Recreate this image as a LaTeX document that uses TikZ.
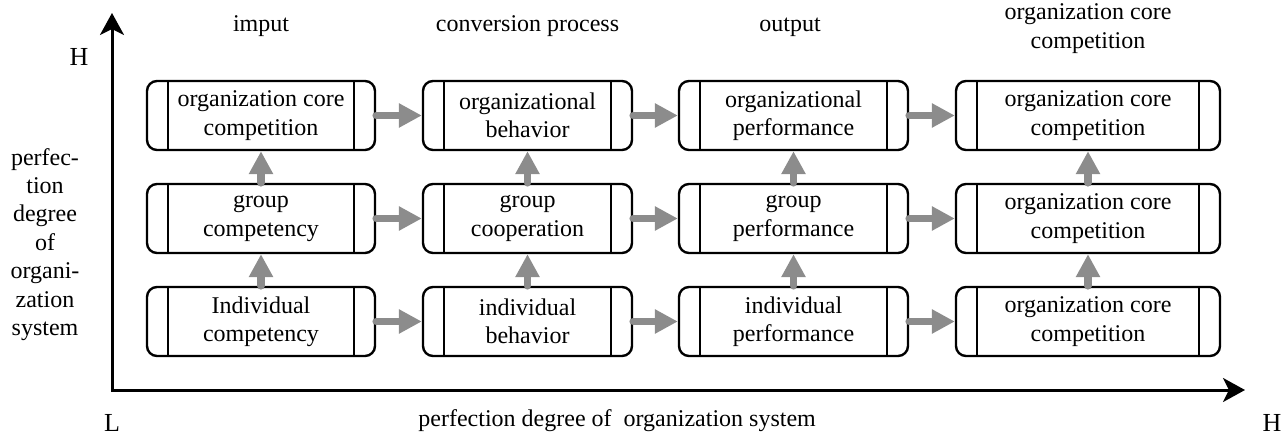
\documentclass[tikz,border=0pt]{standalone}
\usepackage{fontspec}
\setmainfont{Liberation Serif}
\newfontfamily\timesfont{Liberation Serif}
\usetikzlibrary{arrows.meta,positioning}
\definecolor{flowgray}{RGB}{140,140,140}

\begin{document}
\begin{tikzpicture}[
    x=0.5pt, y=-0.5pt,
    font=\timesfont\fontsize{12}{14.2}\selectfont,
    stage/.style={rectangle, draw, line width=1.2pt, rounded corners=5pt, align=center, inner sep=0pt, minimum height=34.5pt,
        path picture={
            \draw[line width=1.2pt] ([xshift=10.5pt]path picture bounding box.north west) -- ([xshift=10.5pt]path picture bounding box.south west);
            \draw[line width=1.2pt] ([xshift=-10.5pt]path picture bounding box.north east) -- ([xshift=-10.5pt]path picture bounding box.south east);
        }},
    flow/.style={-{Triangle[length=11.5pt,width=11.5pt]}, line width=3.8pt, line cap=round, flowgray},
    axisline/.style={{Stealth[length=11pt,width=12pt,inset=3pt]}-{Stealth[length=11pt,width=12pt,inset=3pt]}, line width=1.5pt, line join=miter},
    head/.style={align=center, inner sep=0pt}
]
\useasboundingbox (0,0) rectangle (1284,438);

% Axes
\coordinate (origin) at (112,390);
\coordinate (ytop) at (112,13);
\coordinate (xend) at (1245,390);
\draw[axisline] (ytop) -- (origin) -- (xend);

\node[head, font=\timesfont\fontsize{13}{14}\selectfont] (hy) at (79,57) {H};
\node[head, font=\timesfont\fontsize{13}{14}\selectfont] (lo) at (112,423) {L};
\node[head, font=\timesfont\fontsize{13}{14}\selectfont] (hx) at (1272,423) {H};
\node[head] (ylabel) at (45,244.5) {perfec-\\tion\\degree\\of\\organi-\\zation\\system};
\node[head, anchor=base west] (xlabel) at (418,426) {perfection degree of~ organization system};

% Column headers
\node[head, anchor=base] (hin) at (261,32) {imput};
\node[head, anchor=base] (hconv) at (527.5,32) {conversion process};
\node[head, anchor=base] (hout) at (790,32) {output};
\node[head] (hcore) at (1088,28.5) {organization core\\competition};

% Input column
\node[stage, minimum width=114pt] (in1) at (261,115.5) {organization core\\competition};
\node[stage, minimum width=114pt] (in2) at (261,218.5) {group\\competency};
\node[stage, minimum width=114pt] (in3) at (261,321.5) {Individual\\competency};

% Conversion column
\node[stage, minimum width=104.5pt] (conv1) at (527.5,115.5) {organizational\\behavior};
\node[stage, minimum width=104.5pt] (conv2) at (527.5,218.5) {group\\cooperation};
\node[stage, minimum width=104.5pt] (conv3) at (527.5,321.5) {individual\\behavior};

% Output column
\node[stage, minimum width=114.5pt] (out1) at (793.5,115.5) {organizational\\performance};
\node[stage, minimum width=114.5pt] (out2) at (793.5,218.5) {group\\performance};
\node[stage, minimum width=114.5pt] (out3) at (793.5,321.5) {individual\\performance};

% Core competition column
\node[stage, minimum width=132pt] (core1) at (1088,115.5) {organization core\\competition};
\node[stage, minimum width=132pt] (core2) at (1088,218.5) {organization core\\competition};
\node[stage, minimum width=132pt] (core3) at (1088,321.5) {organization core\\competition};

% Arrows
\foreach \r in {1,2,3} {
    \draw[flow] (in\r.east) -- (conv\r.west);
    \draw[flow] (conv\r.east) -- (out\r.west);
    \draw[flow] (out\r.east) -- (core\r.west);
}
\foreach \c in {in,conv,out,core} {
    \draw[flow] (\c3.north) -- (\c2.south);
    \draw[flow] (\c2.north) -- (\c1.south);
}

\end{tikzpicture}
\end{document}
